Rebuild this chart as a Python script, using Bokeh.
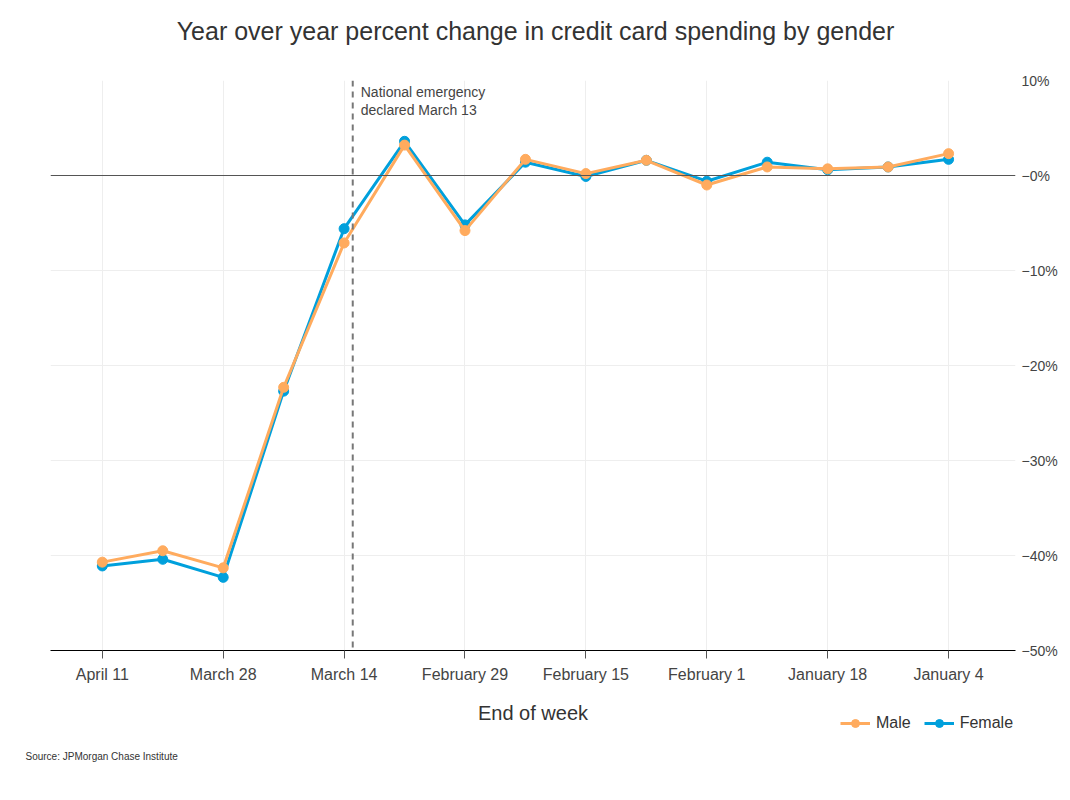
import datetime as dt
from bokeh.plotting import figure
from bokeh.layouts import column
from bokeh.models import Range1d, FixedTicker, Span, Label, Legend, LegendItem
from bokeh.embed import file_html
from bokeh.resources import INLINE

title_text = "Year over year percent change in credit card spending by gender"
weeks = ["2020-01-04", "2020-01-11", "2020-01-18", "2020-01-25", "2020-02-01",
         "2020-02-08", "2020-02-15", "2020-02-22", "2020-02-29", "2020-03-07",
         "2020-03-14", "2020-03-21", "2020-03-28", "2020-04-04", "2020-04-11"]
female = [1.7, 0.9, 0.6, 1.4, -0.6, 1.6, -0.1, 1.4, -5.2, 3.6, -5.6, -22.7, -42.3, -40.4, -41.1]
male = [2.3, 0.9, 0.7, 0.9, -1.0, 1.6, 0.2, 1.7, -5.8, 3.2, -7.1, -22.3, -41.3, -39.5, -40.7]
tick_weeks = ["2020-01-04", "2020-01-18", "2020-02-01", "2020-02-15",
              "2020-02-29", "2020-03-14", "2020-03-28", "2020-04-11"]
tick_labels = ["January 4", "January 18", "February 1", "February 15",
               "February 29", "March 14", "March 28", "April 11"]
y_ticks = [10, 0, -10, -20, -30, -40, -50]
y_tick_labels = ["10%", "\u22120%", "\u221210%", "\u221220%", "\u221230%", "\u221240%", "\u221250%"]
emergency_date = "2020-03-13"
emergency_text = "National emergency\ndeclared March 13"
source_text = "Source: JPMorgan Chase Institute"
x_title = "End of week"
series_names = ["Female", "Male"]

UTC = dt.timezone.utc
NAN = float("nan")


def to_dt(s):
    return dt.datetime.fromisoformat(s).replace(tzinfo=UTC)


def to_ms(d):
    return d.timestamp() * 1000.0


x_dates = [to_dt(s) for s in weeks]
x_ms = [to_ms(d) for d in x_dates]
tick_ms = [to_ms(to_dt(s)) for s in tick_weeks]

FONT = "Liberation Sans"
BLUE = "#00A0DC"
ORANGE = "#FFAB5E"


def strip(height):
    f = figure(width=1070, height=height, output_backend="svg", toolbar_location=None,
               x_range=Range1d(0, 1), y_range=Range1d(0, 1),
               x_axis_location=None, y_axis_location=None,
               min_border=0, min_border_left=0, min_border_right=0,
               min_border_top=0, min_border_bottom=0)
    f.frame_align = False
    f.outline_line_color = None
    f.background_fill_alpha = 0
    f.border_fill_alpha = 0
    f.grid.visible = False
    return f


# header strip with the title
p0 = strip(60)
p0.add_layout(Label(x=535, y=30, x_units="screen", y_units="screen", text=title_text,
                    text_align="center", text_baseline="middle", text_font=FONT,
                    text_font_size="25px", text_color="#333333"))

x_start = to_ms(x_dates[-1] + dt.timedelta(days=6))
x_end = to_ms(x_dates[0] - dt.timedelta(days=7.75))

p = figure(width=1070, height=740, output_backend="svg", toolbar_location=None,
           x_range=Range1d(start=x_start, end=x_end),
           y_range=Range1d(start=-50, end=10),
           y_axis_location="right",
           min_border_left=50, min_border_right=55,
           min_border_top=20, min_border_bottom=150)
p.frame_align = False
p.outline_line_color = None
p.background_fill_color = "white"
p.border_fill_color = "white"

# axes
xa = p.xaxis[0]
xa.ticker = FixedTicker(ticks=tick_ms)
xa.major_label_overrides = {t: l for t, l in zip(tick_ms, tick_labels)}
xa.axis_label = x_title
xa.axis_label_text_font = FONT
xa.axis_label_text_font_size = "20px"
xa.axis_label_text_font_style = "normal"
xa.axis_label_text_color = "#333333"
xa.axis_label_standoff = 16
xa.major_label_text_font = FONT
xa.major_label_text_font_size = "16px"
xa.major_label_text_color = "#444444"
xa.major_label_standoff = 7
xa.axis_line_color = "#000000"
xa.axis_line_width = 1
xa.major_tick_line_color = "#555555"
xa.major_tick_out = 8
xa.major_tick_in = 0
xa.minor_tick_line_color = None

ya = p.yaxis[0]
ya.ticker = FixedTicker(ticks=y_ticks)
ya.major_label_overrides = {t: l for t, l in zip(y_ticks, y_tick_labels)}
ya.major_label_text_font = FONT
ya.major_label_text_font_size = "14px"
ya.major_label_text_color = "#444444"
ya.major_label_standoff = 0
ya.axis_line_color = None
ya.major_tick_line_color = None
ya.minor_tick_line_color = None

p.xgrid[0].ticker = FixedTicker(ticks=tick_ms)
p.xgrid[0].grid_line_color = "#eeeeee"
p.ygrid[0].ticker = FixedTicker(ticks=y_ticks)
p.ygrid[0].grid_line_color = "#eeeeee"

# zero line
p.add_layout(Span(location=0, dimension="width", line_color="#555555", line_width=1))

# emergency line
em_ms = to_ms(to_dt(emergency_date))
p.add_layout(Span(location=em_ms, dimension="height", line_color="#777777",
                  line_width=2, line_dash="6 5"))
p.add_layout(Label(x=em_ms, y=10, text=emergency_text, x_offset=8, y_offset=-3,
                   text_baseline="top", text_align="left", text_font=FONT,
                   text_font_size="14px", text_color="#444444", text_line_height=1.15))

p.line(x_ms, female, line_color=BLUE, line_width=3)
p.scatter(x_ms, female, size=10, fill_color=BLUE, line_color=BLUE)
p.line(x_ms, male, line_color=ORANGE, line_width=3)
p.scatter(x_ms, male, size=10, fill_color=ORANGE, line_color=ORANGE)

# footer strip (legend + source), overlapping the bottom margin of the main plot
p2 = strip(80)
p2.margin = (-100, 0, 0, 0)

lf = p2.line([NAN, NAN], [NAN, NAN], line_color=BLUE, line_width=3)
sf = p2.scatter([NAN], [NAN], size=10, fill_color=BLUE, line_color=BLUE)
lm = p2.line([NAN, NAN], [NAN, NAN], line_color=ORANGE, line_width=3)
sm = p2.scatter([NAN], [NAN], size=10, fill_color=ORANGE, line_color=ORANGE)

legend = Legend(items=[LegendItem(label=series_names[1], renderers=[lm, sm]),
                       LegendItem(label=series_names[0], renderers=[lf, sf])],
                orientation="horizontal", location=(840, 47),
                label_text_font=FONT, label_text_font_size="16px",
                label_text_color="#333333", glyph_width=30, glyph_height=20,
                label_height=20, padding=0, margin=0, spacing=13,
                label_standoff=6, border_line_color=None,
                background_fill_alpha=0)
p2.add_layout(legend, "center")

p2.add_layout(Label(x=25, y=24, x_units="screen", y_units="screen",
                    text=source_text, text_font=FONT, text_font_size="10px",
                    text_color="#333333", text_baseline="middle"))

layout = column(p0, p, p2, spacing=0)
open("out.html", "w").write(file_html(layout, INLINE))
